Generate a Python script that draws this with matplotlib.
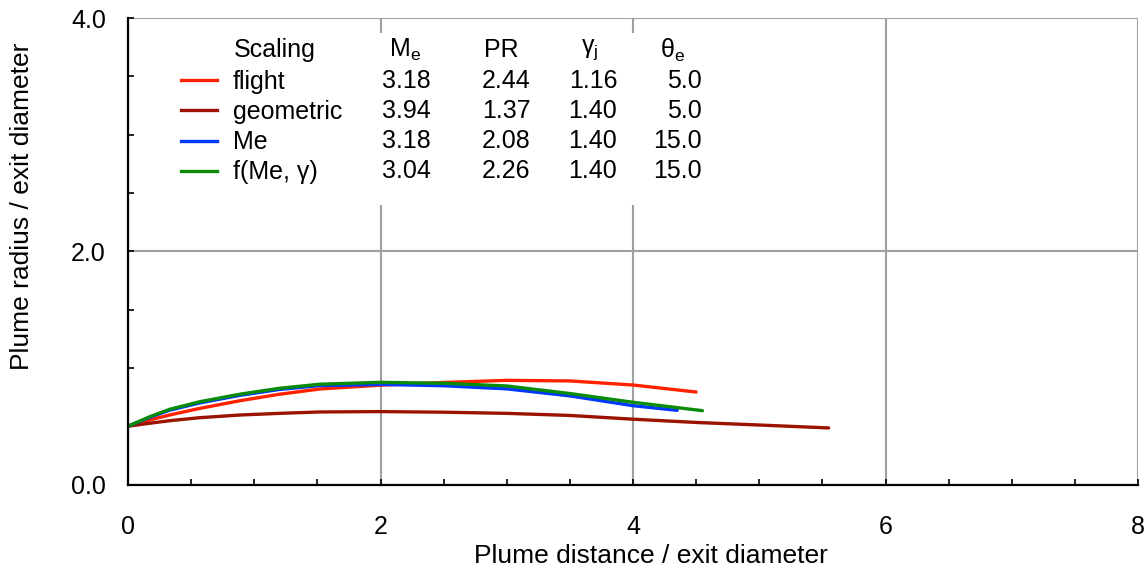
import matplotlib
matplotlib.use("Agg")
import matplotlib.pyplot as plt
from matplotlib.lines import Line2D
from matplotlib.patches import Rectangle
from matplotlib.ticker import MultipleLocator, FixedLocator

plt.rcParams['font.family'] = ['Liberation Sans', 'DejaVu Sans']
plt.rcParams['mathtext.fontset'] = 'custom'
plt.rcParams['mathtext.rm'] = 'Liberation Sans'
plt.rcParams['mathtext.it'] = 'Liberation Sans:italic'

# ---- data ----
scaling = ["flight", "geometric", "Me", "f(Me, γ)"]
Me_vals = ["3.18", "3.94", "3.18", "3.04"]
PR_vals = ["2.44", "1.37", "2.08", "2.26"]
gam_vals = ["1.16", "1.40", "1.40", "1.40"]
theta_vals = ["5.0", "5.0", "15.0", "15.0"]
colors = ["#ff2200", "#9b1200", "#0038ff", "#0a8c0a"]

flight_x = [0, 0.17, 0.33, 0.57, 0.89, 1.2, 1.52, 2.0, 2.5, 3.0, 3.5, 4.0, 4.5]
flight_y = [0.50, 0.553, 0.596, 0.653, 0.719, 0.774, 0.819, 0.852, 0.875, 0.893, 0.888, 0.853, 0.793]

geom_x = [0, 0.17, 0.33, 0.57, 0.89, 1.2, 1.52, 2.0, 2.5, 3.0, 3.5, 4.0, 4.5, 5.0, 5.55]
geom_y = [0.50, 0.525, 0.547, 0.573, 0.596, 0.61, 0.622, 0.625, 0.62, 0.61, 0.592, 0.56, 0.532, 0.51, 0.485]

me_x = [0, 0.17, 0.33, 0.57, 0.89, 1.2, 1.52, 2.0, 2.5, 3.0, 3.5, 4.0, 4.35]
me_y = [0.50, 0.575, 0.637, 0.70, 0.765, 0.815, 0.848, 0.858, 0.847, 0.82, 0.76, 0.676, 0.636]

fmg_x = [0, 0.17, 0.33, 0.57, 0.89, 1.2, 1.52, 2.0, 2.5, 3.0, 3.5, 4.0, 4.55]
fmg_y = [0.50, 0.58, 0.645, 0.71, 0.775, 0.825, 0.86, 0.876, 0.868, 0.845, 0.78, 0.705, 0.633]

xs = [flight_x, geom_x, me_x, fmg_x]
ys = [flight_y, geom_y, me_y, fmg_y]

x_ticks = [0, 2, 4, 6, 8]
x_ticklabels = ["0", "2", "4", "6", "8"]
y_ticks = [0, 2, 4]
y_ticklabels = ["0.0", "2.0", "4.0"]

# ---- figure ----
W, H = 1147, 571
fig = plt.figure(figsize=(W / 100, H / 100), dpi=100)
L, R, T, B = 128, 1138, 18, 484.5
ax = fig.add_axes([L / W, (H - B) / H, (R - L) / W, (B - T) / H])

ax.set_xlim(0, 8)
ax.set_ylim(0, 4)

# grid
ax.set_axisbelow(True)
ax.xaxis.set_major_locator(FixedLocator(x_ticks))
ax.yaxis.set_major_locator(FixedLocator(y_ticks))
ax.xaxis.set_minor_locator(MultipleLocator(0.5))
ax.yaxis.set_minor_locator(MultipleLocator(0.5))
ax.set_xticklabels(x_ticklabels)
ax.set_yticklabels(y_ticklabels)
ax.grid(True, which='major', color='#a0a0a0', linewidth=1.5, zorder=0)

for s in ['top', 'right']:
    ax.spines[s].set_visible(False)
for s in ['left', 'bottom']:
    ax.spines[s].set_linewidth(1.6)
    ax.spines[s].set_color('black')
    ax.spines[s].set_zorder(5)

ax.tick_params(which='both', direction='in', width=1.2, color='black', labelsize=18)
ax.tick_params(which='major', length=4.5)
ax.tick_params(which='minor', length=4)
ax.tick_params(axis='x', which='major', pad=22)
ax.tick_params(axis='y', which='major', pad=16)
ax.tick_params(axis='x', which='both', top=False)
ax.tick_params(axis='y', which='both', right=False)

# white box behind legend table (interrupts grid)
ax.add_patch(Rectangle((0.035, 0.60), 0.56, 0.368, transform=ax.transAxes,
                       facecolor='white', edgecolor='none', zorder=1))

# curves
for x, y, c in zip(xs, ys, colors):
    ax.plot(x, y, color=c, linewidth=2.4, solid_capstyle='round', zorder=3)

# axis labels
ax.set_xlabel("Plume distance / exit diameter", fontsize=19)
ax.xaxis.set_label_coords((651 - L) / (R - L), (B - 556) / (B - T))
ax.xaxis.label.set_va('center')
ax.set_ylabel("Plume radius / exit diameter", fontsize=19)
ax.yaxis.set_label_coords((22 - L) / (R - L), (B - 206) / (B - T))
ax.yaxis.label.set_va('center')

# legend table
def fx(px):
    return (px - L) / (R - L)

def fy(py):
    return (B - py) / (B - T)

handles = [Line2D([], [], color=c, linewidth=2.4) for c in colors]
leg = ax.legend(handles, scaling, loc='upper left',
                bbox_to_anchor=(fx(181), fy(70)), frameon=False,
                fontsize=18, handlelength=1.45, handletextpad=0.62,
                labelspacing=0.245, borderpad=0, borderaxespad=0)
leg.set_zorder(4)

fs = 18
row_y = [81, 111, 141, 171]
hdr_y = 50
ax.text(fx(234), fy(hdr_y), "Scaling", transform=ax.transAxes, fontsize=fs,
        ha='left', va='center', zorder=4)
ax.text(fx(405), fy(hdr_y), r"$\mathregular{M_e}$", transform=ax.transAxes, fontsize=fs,
        ha='center', va='center', zorder=4)
ax.text(fx(501), fy(hdr_y), "PR", transform=ax.transAxes, fontsize=fs,
        ha='center', va='center', zorder=4)
ax.text(fx(590), fy(hdr_y), r"$\mathregular{γ_j}$", transform=ax.transAxes, fontsize=fs,
        ha='center', va='center', zorder=4)
ax.text(fx(673), fy(hdr_y), r"$\mathregular{θ_e}$", transform=ax.transAxes, fontsize=fs,
        ha='center', va='center', zorder=4)

for i, yy in enumerate(row_y):
    ax.text(fx(406), fy(yy), Me_vals[i], transform=ax.transAxes, fontsize=fs,
            ha='center', va='center', zorder=4)
    ax.text(fx(506), fy(yy), PR_vals[i], transform=ax.transAxes, fontsize=fs,
            ha='center', va='center', zorder=4)
    ax.text(fx(593), fy(yy), gam_vals[i], transform=ax.transAxes, fontsize=fs,
            ha='center', va='center', zorder=4)
    ax.text(fx(702), fy(yy), theta_vals[i], transform=ax.transAxes, fontsize=fs,
            ha='right', va='center', zorder=4)

fig.savefig("out.png", dpi=100)
